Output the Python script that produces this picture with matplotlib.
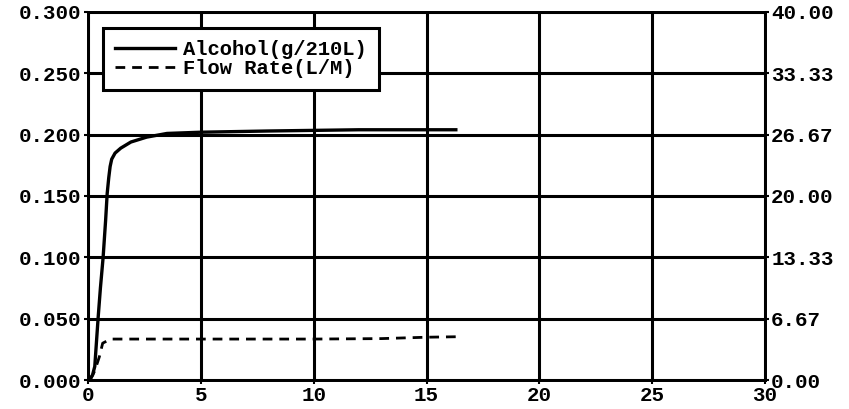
import matplotlib
matplotlib.use('Agg')
import matplotlib.pyplot as plt
import numpy as np

# breath test trace
t_alc = [0.05, 0.2, 0.3, 0.45, 0.55, 0.67, 0.78, 0.85, 0.92, 0.98, 1.05, 1.2, 1.45, 1.9, 2.6, 3.5, 5.0, 8.0, 12.0, 16.3]
alcohol = [0.0, 0.004, 0.011, 0.051, 0.075, 0.100, 0.130, 0.152, 0.165, 0.174, 0.180, 0.185, 0.189, 0.194, 0.198, 0.201, 0.202, 0.203, 0.204, 0.204]

t_flow = [0.1, 0.3, 0.5, 0.65, 1.0, 5.0, 10.0, 13.0, 15.0, 16.3]
flow = [0.0, 1.0, 2.5, 4.0, 4.45, 4.45, 4.45, 4.5, 4.65, 4.7]

x_ticks = [0, 5, 10, 15, 20, 25, 30]
left_ticks = [0.0, 0.05, 0.10, 0.15, 0.20, 0.25, 0.30]
right_ticks = [0.0, 6.67, 13.33, 20.0, 26.67, 33.33, 40.0]

plt.rcParams['font.family'] = ['Liberation Mono', 'DejaVu Sans Mono']
plt.rcParams['font.weight'] = 'bold'

fig = plt.figure(figsize=(8.49, 4.09), dpi=100)
ax1 = fig.add_axes([88/849, 1-380/409, (765-88)/849, (380-12)/409])
ax2 = ax1.twinx()

l1, = ax1.plot(t_alc, alcohol, color='black', lw=2.4, label='Alcohol(g/210L)')
l2, = ax2.plot(t_flow, flow, color='black', lw=2.0, ls=(0, (3.5, 2.5)), label='Flow Rate(L/M)')

ax1.set_xlim(0, 30)
ax1.set_ylim(0, 0.3)
ax2.set_ylim(0, 40)
ax1.set_xticks(x_ticks)
ax1.set_xticklabels([str(v) for v in x_ticks])
ax1.set_yticks(left_ticks)
ax1.set_yticklabels(['%.3f' % v for v in left_ticks])
ax2.set_yticks(right_ticks)
ax2.set_yticklabels(['%.2f' % v for v in right_ticks])

ax1.grid(True, color='black', lw=2.2)
for ax in (ax1, ax2):
    ax.tick_params(length=3, width=1.5, labelsize=15, pad=1.5, colors='black')
    for s in ax.spines.values():
        s.set_linewidth(2)

leg = ax2.legend(handles=[l1, l2], loc='upper left', bbox_to_anchor=(0.022, 0.957),
                 fontsize=14.8, frameon=True, fancybox=False, framealpha=1,
                 edgecolor='black', handlelength=2.9, handletextpad=0.4,
                 borderpad=0.6, labelspacing=0.0, borderaxespad=0)
leg.get_frame().set_linewidth(2.2)

fig.savefig('out.png', dpi=100)
